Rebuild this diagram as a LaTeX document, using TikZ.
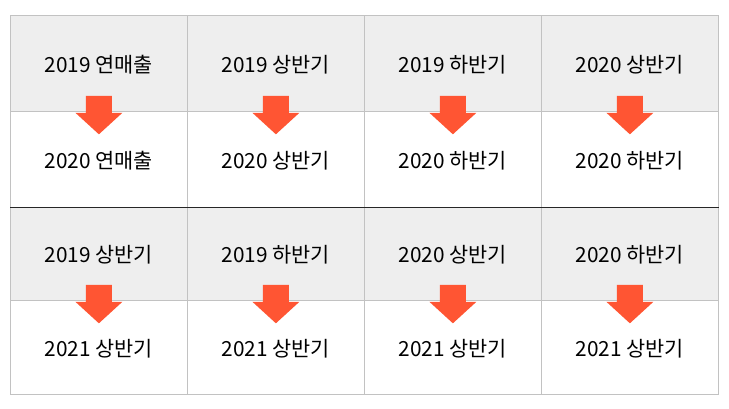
\documentclass[tikz,border=0pt]{standalone}
\usepackage{fontspec}
\setmainfont{Noto Sans CJK KR}
\definecolor{cellgray}{HTML}{EEEEEE}
\definecolor{gridline}{HTML}{C2C2C2}
\definecolor{arroworange}{HTML}{FF5533}

\begin{document}
\begin{tikzpicture}[x=1pt, y=-1pt,
  cell/.style={draw=gridline, line width=0.8pt, anchor=north west, inner sep=0pt,
    minimum width=177pt, text depth=0pt, font=\fontsize{20.8}{22}\selectfont},
  shadedcell/.style={cell, fill=cellgray},
  plaincell/.style={cell, fill=white},
  downarrow/.style={fill=arroworange}]
\useasboundingbox[fill=white] (0,0) rectangle (729,408);

% upper block
\foreach \lbl [count=\i] in {2019 연매출, 2019 상반기, 2019 하반기, 2020 상반기}
  \node[shadedcell, minimum height=96pt] (a\i) at ({10+177*(\i-1)},15) {\lbl};
\foreach \lbl [count=\i] in {2020 연매출, 2020 상반기, 2020 하반기, 2020 하반기}
  \node[plaincell, minimum height=96pt] (b\i) at ({10+177*(\i-1)},111) {\lbl};

% lower block
\foreach \lbl [count=\i] in {2019 상반기, 2019 하반기, 2020 상반기, 2020 하반기}
  \node[shadedcell, minimum height=93pt] (c\i) at ({10+177*(\i-1)},207) {\lbl};
\foreach \lbl [count=\i] in {2021 상반기, 2021 상반기, 2021 상반기, 2021 상반기}
  \node[plaincell, minimum height=94pt] (d\i) at ({10+177*(\i-1)},300) {\lbl};

\draw[line width=1pt, black!85] (c1.north west) -- (c4.north east);

% arrows across the row boundary
\foreach \r in {a,c}
  \foreach \i in {1,...,4}
    \fill[downarrow, shift={(\r\i.south)}]
      (-13,-16) -- (13,-16) -- (13,1) -- (23.5,1) -- (0,22.5) -- (-23.5,1) -- (-13,1) -- cycle;
\end{tikzpicture}
\end{document}
